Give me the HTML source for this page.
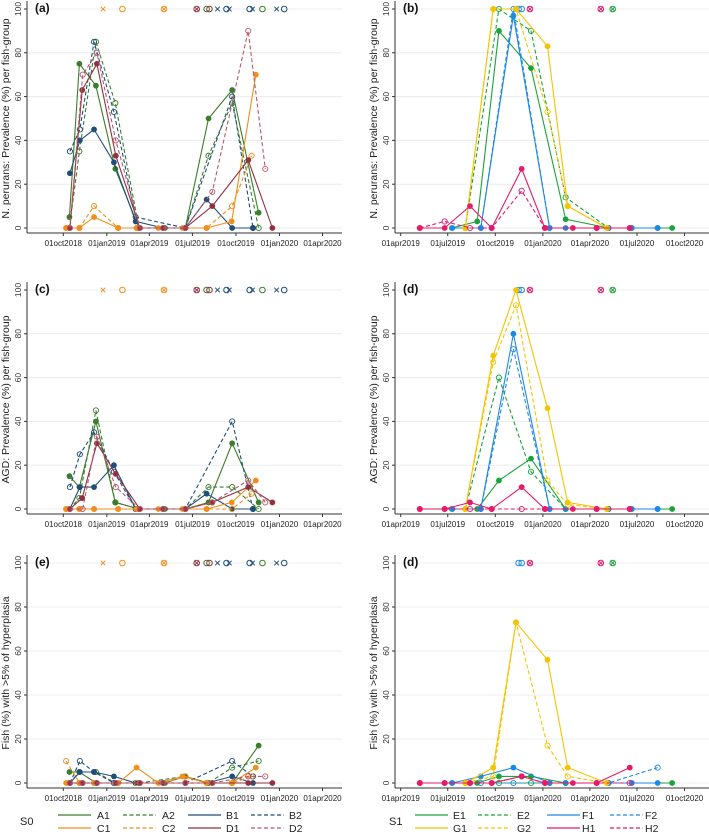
<!DOCTYPE html>
<html><head><meta charset="utf-8"><style>
body{margin:0;background:#fff;}
svg{display:block;font-family:"Liberation Sans",sans-serif;}
</style></head><body>
<svg id="chart" width="709" height="836" viewBox="0 0 709 836" xmlns="http://www.w3.org/2000/svg"></svg>
<script>
// ---- tick labels ----
const leftTickDays=[0,92,182,273,365,457,548];
const leftTickLabels=["01oct2018","01jan2019","01apr2019","01jul2019","01oct2019","01jan2020","01apr2020"];
const rightTickDays=[0,91,183,275,366,457,549];
const rightTickLabels=["01apr2019","01jul2019","01oct2019","01jan2020","01apr2020","01jul2020","01oct2020"];
const yTicks=[0,20,40,60,80,100];
// ---- left series (days since 01oct2018) ----
const A1days=[13,34,69,110,160,215,258,307,357,413];
const A1a=[5,75,65,27,0,0,0,50,63,7], A1c=[15,10,40,3,0,0,0,3,30,3], A1e=[5,5,0,0,0,0,3,0,0,17];
const A2days=[13,34,69,110,160,258,307,357,413];
const A2a=[0,35,85,57,0,0,33,57,0], A2c=[0,5,45,3,0,0,10,10,0], A2e=[0,5,5,0,0,3,0,7,10];
const B1days=[14,35,65,107,153,211,258,303,357,401];
const B1a=[25,40,45,30,3,0,0,13,0,0], B1c=[0,10,10,20,0,0,0,7,0,0], B1e=[0,5,5,3,0,0,0,0,3,0];
const B2days=[14,35,65,107,153,258,357,401];
const B2a=[35,45,85,53,5,0,60,0], B2c=[10,25,35,17,0,0,40,0], B2e=[0,10,5,0,0,0,10,3];
const C1days=[6,34,65,116,155,201,252,303,356,407];
const C1a=[0,0,5,0,0,0,0,0,3,70], C1c=[0,0,0,0,0,0,0,0,3,13], C1e=[0,0,0,0,7,0,3,0,0,7];
const C2days=[6,34,65,116,155,211,258,303,357,398];
const C2a=[0,0,10,0,0,0,0,0,10,33], C2c=[0,0,0,0,0,0,0,0,0,7], C2e=[10,0,0,0,0,0,3,0,0,3];
const D1days=[14,40,71,111,162,211,258,315,391,442];
const D1a=[0,63,75,33,0,0,0,10,31,0], D1c=[0,5,30,16,0,0,0,3,10,3], D1e=[0,0,0,0,0,0,0,0,0,0];
const D2days=[14,41,71,111,162,211,258,315,391,427];
const D2a=[0,70,80,40,0,0,0,16.5,90,27], D2c=[0,0,33,10,0,0,0,3,13,3], D2e=[0,0,0,0,0,0,0,0,3,3];
// ---- right series (days since 01apr2019) ----
const E1days=[99,148,190,252,319,402,447,525];
const E1b=[0,3,90,73,4,0,0,0], E1d=[0,0,13,23,0,0,0,0], E1f=[0,0,3,3,0,0,0,0];
const E2days=[125,190,252,319,402];
const E2b=[0,100,90,14,0], E2d=[0,60,17,0,0], E2f=[0,0,0,0,0];
const F1days=[100,155,218,288,319,402,447,497];
const F1b=[0,0,97,0,0,0,0,0], F1d=[0,0,80,0,0,0,0,0], F1f=[0,3,7,0,0,0,0,0];
const F2days=[155,218,288,402,497];
const F2b=[0,100,0,0,0], F2d=[0,73,0,0,0], F2f=[0,0,0,0,7];
const G1days=[125,179,223,284,323,399];
const G1b=[0,100,100,83,10,0], G1d=[0,70,100,46,3,0], G1f=[0,7,73,56,7,0];
const G2days=[125,179,223,284,323,399];
const G2b=[0,100,100,53,10,0], G2d=[0,67,93,13,2,0], G2f=[0,3,73,17,3,0];
const H1days=[37,85,134,176,234,279,333,379,443];
const H1b=[0,0,10,0,27,0,0,0,0], H1d=[0,0,3,0,10,0,0,0,0], H1f=[0,0,0,0,3,0,0,0,7];
const H2days=[37,85,134,176,234,279,379,443];
const H2b=[0,3,0,0,17,0,0,0], H2d=[0,0,0,0,0,0,0,0], H2f=[0,0,0,0,3,0,0,0];
// ---- top event markers ----
const leftMarkDays=[84,125,213,282,303,309,326,345,351,394,400,421,451,467];
const leftMarkKinds=["x","o","ox","ox","o","o","x","o","x","o","x","o","x","o"];
const leftMarkColors=["#f28e1c","#f28e1c","#f28e1c","#93303f","#3a7d2a","#93303f","#1f4e79","#1f4e79","#1f4e79","#1f4e79","#1f4e79","#3a7d2a","#1f4e79","#1f4e79"];
const rightMarkDays=[228,234,250,387,410];
const rightMarkKinds=["o","o","ox","ox","ox"];
const rightMarkColors=["#1e88e5","#1e88e5","#e6196b","#e6196b","#1aa33a"];

const NS="http://www.w3.org/2000/svg";
const svg=document.getElementById('chart');
function mk(tag,attrs,parent){const e=document.createElementNS(NS,tag);for(const k in attrs)e.setAttribute(k,attrs[k]);(parent||svg).appendChild(e);return e;}

const COL={A1:"#3a7d2a",A2:"#3a7d2a",B1:"#1f4e79",B2:"#1f4e79",C1:"#f28e1c",C2:"#f28e1c",D1:"#93303f",D2:"#b8596a",
E1:"#1aa33a",E2:"#1aa33a",F1:"#1e88e5",F2:"#1e88e5",G1:"#f5c400",G2:"#f5c400",H1:"#e6196b",H2:"#e6196b"};

function panel(opt){
  const g=mk('g',{});
  
  
  const xs=d=>opt.x0+opt.k*d;
  const ys=v=>opt.y0+(opt.y100-opt.y0)*v/100;
  const axX=opt.axX, right=opt.right, bot=opt.y0+5;
  yTicks.forEach(t=>{
    const ln=mk('line',{x1:axX,x2:right,y1:ys(t),y2:ys(t),stroke:"#ececec","stroke-width":1},g);
    
    
    const tx=mk('text',{x:0,y:0,"font-size":8.5,fill:"#333","text-anchor":"middle",transform:`translate(${axX-6},${ys(t)}) rotate(-90)`},g);
    tx.textContent=t;
    
    
    mk('line',{x1:axX-3,x2:axX,y1:ys(t),y2:ys(t),stroke:"#333"},g);
  });
  const ya=mk('line',{x1:axX,x2:axX,y1:opt.y100-8,y2:bot,stroke:"#333"},g);
  
  
  const xa=mk('line',{x1:axX,x2:right,y1:bot,y2:bot,stroke:"#333"},g);
  
  
  opt.tickDays.forEach((d,i)=>{
    mk('line',{x1:xs(d),x2:xs(d),y1:bot,y2:bot+3,stroke:"#333"},g);
    const t=mk('text',{x:xs(d),y:bot+13,"font-size":8,fill:"#222","text-anchor":"middle"},g);
    t.textContent=opt.tickLabels[i];
    
    
  });
  const yt=mk('text',{x:0,y:0,"font-size":10.5,fill:"#222","text-anchor":"middle",transform:`translate(${opt.titleX},${(opt.y0+opt.y100)/2}) rotate(-90)`},g);
  yt.textContent=opt.ytitle;
  
  
  const lb=mk('text',{x:axX+8,y:opt.y100+3,"font-size":12,"font-weight":"bold",fill:"#111"},g);
  lb.textContent='('+opt.letter+')';
  
  
  opt.markDays.forEach((d,i)=>{
    const cx=xs(d), cy=ys(100), c=opt.markColors[i], k=opt.markKinds[i];
    const mg=mk('g',{},g);
    
    
    if(k.includes('o')) mk('circle',{cx,cy,r:2.8,fill:"none",stroke:c,"stroke-width":1},mg);
    if(k.includes('x')){mk('line',{x1:cx-2.3,y1:cy-2.3,x2:cx+2.3,y2:cy+2.3,stroke:c,"stroke-width":1},mg);mk('line',{x1:cx-2.3,y1:cy+2.3,x2:cx+2.3,y2:cy-2.3,stroke:c,"stroke-width":1},mg);}
  });
  opt.series.forEach(s=>{
    const [name,days,vals]=s;
    const dashed=name[1]==='2', c=COL[name];
    const sg=mk('g',{},g);
    
    
    const pts=days.map((d,i)=>xs(d).toFixed(1)+','+ys(vals[i]).toFixed(1)).join(' ');
    const pl=mk('polyline',{points:pts,fill:"none",stroke:c,"stroke-width":1.1,"stroke-dasharray":dashed?"4,2.5":"none"},sg);
    
    
    days.forEach((d,i)=>{
      const p=mk('circle',{cx:xs(d),cy:ys(vals[i]),r:dashed?2.6:2.9,fill:dashed?"none":c,stroke:c,"stroke-width":dashed?0.9:0},sg);
      
      
    });
  });
}
const L={x0:63.3,k:0.473,axX:27,right:342,tickDays:leftTickDays,tickLabels:leftTickLabels,titleX:9,markDays:leftMarkDays,markKinds:leftMarkKinds,markColors:leftMarkColors};
const R={x0:400.7,k:0.517,axX:395,right:709,tickDays:rightTickDays,tickLabels:rightTickLabels,titleX:377,markDays:rightMarkDays,markKinds:rightMarkKinds,markColors:rightMarkColors};
const t1="N. perurans: Prevalence (%) per fish-group", t2="AGD: Prevalence (%) per fish-group", t3="Fish (%) with >5% of hyperplasia";
panel(Object.assign({},L,{letter:'a',y0:228,y100:9,ytitle:t1,series:[["A1",A1days,A1a],["A2",A2days,A2a],["B1",B1days,B1a],["B2",B2days,B2a],["C1",C1days,C1a],["C2",C2days,C2a],["D1",D1days,D1a],["D2",D2days,D2a]]}));
panel(Object.assign({},L,{letter:'c',y0:509,y100:290,ytitle:t2,series:[["A1",A1days,A1c],["A2",A2days,A2c],["B1",B1days,B1c],["B2",B2days,B2c],["C1",C1days,C1c],["C2",C2days,C2c],["D1",D1days,D1c],["D2",D2days,D2c]]}));
panel(Object.assign({},L,{letter:'e',y0:783,y100:563,ytitle:t3,series:[["A1",A1days,A1e],["A2",A2days,A2e],["B1",B1days,B1e],["B2",B2days,B2e],["C1",C1days,C1e],["C2",C2days,C2e],["D1",D1days,D1e],["D2",D2days,D2e]]}));
panel(Object.assign({},R,{letter:'b',y0:228,y100:9,ytitle:t1,series:[["E1",E1days,E1b],["E2",E2days,E2b],["F1",F1days,F1b],["F2",F2days,F2b],["G1",G1days,G1b],["G2",G2days,G2b],["H1",H1days,H1b],["H2",H2days,H2b]]}));
panel(Object.assign({},R,{letter:'d',y0:509,y100:290,ytitle:t2,series:[["E1",E1days,E1d],["E2",E2days,E2d],["F1",F1days,F1d],["F2",F2days,F2d],["G1",G1days,G1d],["G2",G2days,G2d],["H1",H1days,H1d],["H2",H2days,H2d]]}));
panel(Object.assign({},R,{letter:'d',y0:783,y100:563,ytitle:t3,series:[["E1",E1days,E1f],["E2",E2days,E2f],["F1",F1days,F1f],["F2",F2days,F2f],["G1",G1days,G1f],["G2",G2days,G2f],["H1",H1days,H1f],["H2",H2days,H2f]]}));

function legend(title,tx,names,lineX,labX){
  const g=mk('g',{});
  
  
  const t=mk('text',{x:tx,y:825,"font-size":11,fill:"#222"},g);t.textContent=title;
  names.forEach((n,i)=>{
    const col=i%4,row=Math.floor(i/4),y=row?828:815;
    const eg=mk('g',{},g);
    
    
    mk('line',{x1:lineX[col],x2:lineX[col]+33,y1:y,y2:y,stroke:COL[n],"stroke-width":1.2,"stroke-dasharray":n[1]==='2'?"4,2.5":"none"},eg);
    const l=mk('text',{x:labX[col],y:y+4,"font-size":10.5,fill:"#222"},eg);l.textContent=n;
  });
}
legend("S0",20,["A1","A2","B1","B2","C1","C2","D1","D2"],[58,123,188,251],[97,162,226,289]);
legend("S1",389,["E1","E2","F1","F2","G1","G2","H1","H2"],[415,478,547,610],[453,517,582,645]);
</script>
</body></html>
